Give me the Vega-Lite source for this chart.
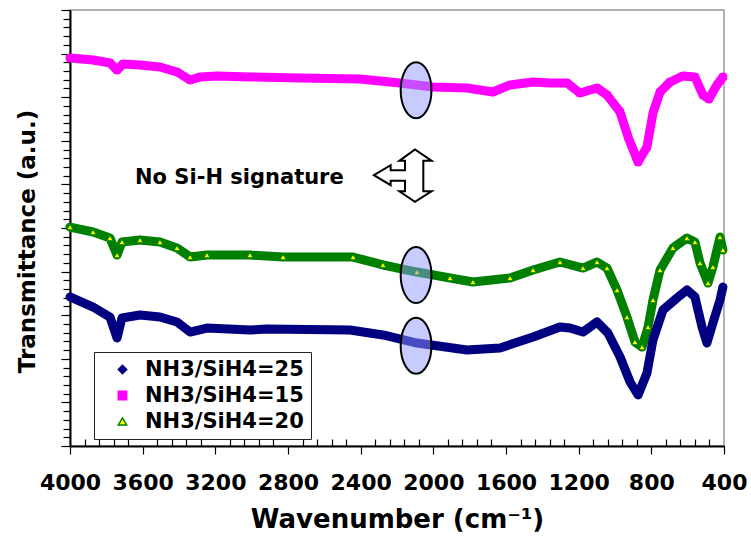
{
  "$schema": "https://vega.github.io/schema/vega-lite/v6.json",
  "width": 654,
  "height": 436,
  "autosize": {"type": "none"},
  "padding": {"left": 70, "top": 10, "right": 27, "bottom": 92},
  "background": "white",
  "config": {
    "view": {"stroke": "#999999", "strokeWidth": 1.5},
    "font": "DejaVu Sans"
  },
  "datasets": {
    "spectra": [
      {"wn": 4000, "t": 44.50, "series": "NH3/SiH4=15"},
      {"wn": 3873, "t": 44.27, "series": "NH3/SiH4=15"},
      {"wn": 3780, "t": 43.92, "series": "NH3/SiH4=15"},
      {"wn": 3741, "t": 43.12, "series": "NH3/SiH4=15"},
      {"wn": 3708, "t": 43.81, "series": "NH3/SiH4=15"},
      {"wn": 3615, "t": 43.69, "series": "NH3/SiH4=15"},
      {"wn": 3505, "t": 43.46, "series": "NH3/SiH4=15"},
      {"wn": 3411, "t": 42.89, "series": "NH3/SiH4=15"},
      {"wn": 3339, "t": 41.97, "series": "NH3/SiH4=15"},
      {"wn": 3284, "t": 42.32, "series": "NH3/SiH4=15"},
      {"wn": 3191, "t": 42.43, "series": "NH3/SiH4=15"},
      {"wn": 3009, "t": 42.32, "series": "NH3/SiH4=15"},
      {"wn": 2734, "t": 42.20, "series": "NH3/SiH4=15"},
      {"wn": 2404, "t": 42.09, "series": "NH3/SiH4=15"},
      {"wn": 2183, "t": 41.63, "series": "NH3/SiH4=15"},
      {"wn": 2002, "t": 41.17, "series": "NH3/SiH4=15"},
      {"wn": 1815, "t": 41.06, "series": "NH3/SiH4=15"},
      {"wn": 1672, "t": 40.60, "series": "NH3/SiH4=15"},
      {"wn": 1578, "t": 41.40, "series": "NH3/SiH4=15"},
      {"wn": 1451, "t": 41.74, "series": "NH3/SiH4=15"},
      {"wn": 1358, "t": 41.63, "series": "NH3/SiH4=15"},
      {"wn": 1264, "t": 41.63, "series": "NH3/SiH4=15"},
      {"wn": 1193, "t": 40.48, "series": "NH3/SiH4=15"},
      {"wn": 1099, "t": 41.06, "series": "NH3/SiH4=15"},
      {"wn": 1044, "t": 40.25, "series": "NH3/SiH4=15"},
      {"wn": 972, "t": 38.30, "series": "NH3/SiH4=15"},
      {"wn": 928, "t": 35.44, "series": "NH3/SiH4=15"},
      {"wn": 873, "t": 32.57, "series": "NH3/SiH4=15"},
      {"wn": 824, "t": 34.29, "series": "NH3/SiH4=15"},
      {"wn": 791, "t": 38.19, "series": "NH3/SiH4=15"},
      {"wn": 752, "t": 40.60, "series": "NH3/SiH4=15"},
      {"wn": 697, "t": 41.74, "series": "NH3/SiH4=15"},
      {"wn": 626, "t": 42.43, "series": "NH3/SiH4=15"},
      {"wn": 560, "t": 42.32, "series": "NH3/SiH4=15"},
      {"wn": 516, "t": 40.25, "series": "NH3/SiH4=15"},
      {"wn": 483, "t": 39.79, "series": "NH3/SiH4=15"},
      {"wn": 439, "t": 41.40, "series": "NH3/SiH4=15"},
      {"wn": 406, "t": 42.32, "series": "NH3/SiH4=15"},

      {"wn": 4000, "t": 25.11, "series": "NH3/SiH4=20"},
      {"wn": 3873, "t": 24.54, "series": "NH3/SiH4=20"},
      {"wn": 3780, "t": 23.85, "series": "NH3/SiH4=20"},
      {"wn": 3741, "t": 21.90, "series": "NH3/SiH4=20"},
      {"wn": 3714, "t": 23.39, "series": "NH3/SiH4=20"},
      {"wn": 3615, "t": 23.62, "series": "NH3/SiH4=20"},
      {"wn": 3505, "t": 23.39, "series": "NH3/SiH4=20"},
      {"wn": 3411, "t": 22.71, "series": "NH3/SiH4=20"},
      {"wn": 3339, "t": 21.67, "series": "NH3/SiH4=20"},
      {"wn": 3246, "t": 21.90, "series": "NH3/SiH4=20"},
      {"wn": 3009, "t": 21.90, "series": "NH3/SiH4=20"},
      {"wn": 2827, "t": 21.67, "series": "NH3/SiH4=20"},
      {"wn": 2442, "t": 21.67, "series": "NH3/SiH4=20"},
      {"wn": 2277, "t": 20.76, "series": "NH3/SiH4=20"},
      {"wn": 2090, "t": 19.95, "series": "NH3/SiH4=20"},
      {"wn": 1908, "t": 19.27, "series": "NH3/SiH4=20"},
      {"wn": 1782, "t": 18.81, "series": "NH3/SiH4=20"},
      {"wn": 1578, "t": 19.27, "series": "NH3/SiH4=20"},
      {"wn": 1451, "t": 20.18, "series": "NH3/SiH4=20"},
      {"wn": 1303, "t": 21.10, "series": "NH3/SiH4=20"},
      {"wn": 1176, "t": 20.41, "series": "NH3/SiH4=20"},
      {"wn": 1099, "t": 21.10, "series": "NH3/SiH4=20"},
      {"wn": 1044, "t": 20.41, "series": "NH3/SiH4=20"},
      {"wn": 989, "t": 17.89, "series": "NH3/SiH4=20"},
      {"wn": 934, "t": 14.79, "series": "NH3/SiH4=20"},
      {"wn": 890, "t": 11.93, "series": "NH3/SiH4=20"},
      {"wn": 851, "t": 11.35, "series": "NH3/SiH4=20"},
      {"wn": 818, "t": 13.65, "series": "NH3/SiH4=20"},
      {"wn": 791, "t": 16.74, "series": "NH3/SiH4=20"},
      {"wn": 752, "t": 20.18, "series": "NH3/SiH4=20"},
      {"wn": 681, "t": 22.71, "series": "NH3/SiH4=20"},
      {"wn": 604, "t": 23.85, "series": "NH3/SiH4=20"},
      {"wn": 560, "t": 23.39, "series": "NH3/SiH4=20"},
      {"wn": 532, "t": 20.99, "series": "NH3/SiH4=20"},
      {"wn": 488, "t": 18.69, "series": "NH3/SiH4=20"},
      {"wn": 461, "t": 20.53, "series": "NH3/SiH4=20"},
      {"wn": 422, "t": 23.97, "series": "NH3/SiH4=20"},
      {"wn": 406, "t": 22.48, "series": "NH3/SiH4=20"},

      {"wn": 4000, "t": 17.09, "series": "NH3/SiH4=25"},
      {"wn": 3873, "t": 15.94, "series": "NH3/SiH4=25"},
      {"wn": 3780, "t": 14.79, "series": "NH3/SiH4=25"},
      {"wn": 3741, "t": 12.39, "series": "NH3/SiH4=25"},
      {"wn": 3714, "t": 14.68, "series": "NH3/SiH4=25"},
      {"wn": 3615, "t": 15.02, "series": "NH3/SiH4=25"},
      {"wn": 3505, "t": 14.79, "series": "NH3/SiH4=25"},
      {"wn": 3411, "t": 14.22, "series": "NH3/SiH4=25"},
      {"wn": 3339, "t": 13.07, "series": "NH3/SiH4=25"},
      {"wn": 3246, "t": 13.53, "series": "NH3/SiH4=25"},
      {"wn": 3009, "t": 13.30, "series": "NH3/SiH4=25"},
      {"wn": 2916, "t": 13.42, "series": "NH3/SiH4=25"},
      {"wn": 2459, "t": 13.30, "series": "NH3/SiH4=25"},
      {"wn": 2277, "t": 12.73, "series": "NH3/SiH4=25"},
      {"wn": 2090, "t": 11.81, "series": "NH3/SiH4=25"},
      {"wn": 1815, "t": 11.01, "series": "NH3/SiH4=25"},
      {"wn": 1633, "t": 11.24, "series": "NH3/SiH4=25"},
      {"wn": 1451, "t": 12.50, "series": "NH3/SiH4=25"},
      {"wn": 1303, "t": 13.65, "series": "NH3/SiH4=25"},
      {"wn": 1248, "t": 13.53, "series": "NH3/SiH4=25"},
      {"wn": 1176, "t": 13.07, "series": "NH3/SiH4=25"},
      {"wn": 1099, "t": 14.22, "series": "NH3/SiH4=25"},
      {"wn": 1039, "t": 12.96, "series": "NH3/SiH4=25"},
      {"wn": 972, "t": 10.21, "series": "NH3/SiH4=25"},
      {"wn": 917, "t": 7.34, "series": "NH3/SiH4=25"},
      {"wn": 873, "t": 5.85, "series": "NH3/SiH4=25"},
      {"wn": 824, "t": 8.37, "series": "NH3/SiH4=25"},
      {"wn": 791, "t": 12.16, "series": "NH3/SiH4=25"},
      {"wn": 736, "t": 15.60, "series": "NH3/SiH4=25"},
      {"wn": 659, "t": 16.97, "series": "NH3/SiH4=25"},
      {"wn": 604, "t": 17.89, "series": "NH3/SiH4=25"},
      {"wn": 560, "t": 17.09, "series": "NH3/SiH4=25"},
      {"wn": 521, "t": 13.65, "series": "NH3/SiH4=25"},
      {"wn": 494, "t": 11.81, "series": "NH3/SiH4=25"},
      {"wn": 461, "t": 14.11, "series": "NH3/SiH4=25"},
      {"wn": 422, "t": 16.74, "series": "NH3/SiH4=25"},
      {"wn": 406, "t": 18.23, "series": "NH3/SiH4=25"}
    ],
    "ellipses": [
      {"wn": 2095, "t": 40.8},
      {"wn": 2095, "t": 19.6},
      {"wn": 2095, "t": 11.5}
    ],
    "arrow": [
      {"wn": 2168, "t": 31.0}
    ],
    "note": [
      {"wn": 3642, "t": 30.05, "text": "No Si-H signature"}
    ]
  },
  "layer": [
    {
      "data": {"name": "spectra"},
      "mark": {"type": "line", "strokeJoin": "round", "strokeCap": "round", "strokeWidth": 9},
      "encoding": {
        "x": {
          "field": "wn", "type": "quantitative",
          "scale": {"domain": [400, 4000], "reverse": true, "nice": false, "zero": false},
          "axis": {
            "title": "Wavenumber (cm⁻¹)",
            "values": [400,480,560,640,720,800,880,960,1040,1120,1200,1280,1360,1440,1520,1600,1680,1760,1840,1920,2000,2080,2160,2240,2320,2400,2480,2560,2640,2720,2800,2880,2960,3040,3120,3200,3280,3360,3440,3520,3600,3680,3760,3840,3920,4000],
            "tickCount": 200,
            "labelExpr": "datum.value % 400 === 0 ? format(datum.value, 'd') : ''",
            "labelFont": "DejaVu Sans", "labelFontSize": 22, "labelFontWeight": "bold", "labelColor": "black",
            "labelPadding": 18, "labelOverlap": false, "labelFlush": false,
            "tickSize": {"condition": {"test": "datum.value % 400 === 0", "value": 8}, "value": -7},
            "tickColor": "black", "tickWidth": 1.2,
            "domainColor": "black", "domainWidth": 2,
            "grid": false,
            "titleFont": "DejaVu Sans", "titleFontSize": 26, "titleFontWeight": "bold", "titleColor": "black",
            "titleBaseline": "alphabetic", "titleY": 81
          }
        },
        "y": {
          "field": "t", "type": "quantitative",
          "scale": {"domain": [0, 50], "nice": false, "zero": false},
          "axis": {
            "title": "Transmittance (a.u.)",
            "values": [0,1,2,3,4,5,6,7,8,9,10,11,12,13,14,15,16,17,18,19,20,21,22,23,24,25,26,27,28,29,30,31,32,33,34,35,36,37,38,39,40,41,42,43,44,45,46,47,48,49,50],
            "tickCount": 200,
            "labels": false,
            "tickSize": {"condition": {"test": "datum.value % 5 === 0", "value": 9}, "value": 7},
            "tickColor": "black", "tickWidth": 1.2,
            "domainColor": "black", "domainWidth": 2,
            "grid": false,
            "titleFont": "DejaVu Sans", "titleFontSize": 23, "titleFontWeight": "bold", "titleColor": "black",
            "titleBaseline": "bottom", "titleX": -31, "titleY": 231, "titleAngle": -90
          }
        },
        "stroke": {
          "field": "series", "type": "nominal",
          "scale": {"domain": ["NH3/SiH4=25", "NH3/SiH4=15", "NH3/SiH4=20"], "range": ["#000080", "#ff00ff", "#008000"]},
          "legend": {
            "title": null, "orient": "none", "legendX": 24, "legendY": 342,
            "labelFont": "DejaVu Sans", "labelFontSize": 21, "labelFontWeight": "bold", "labelColor": "black",
            "strokeColor": "#222222", "padding": 7, "rowPadding": 4, "symbolOffset": 11, "labelOffset": 12,
            "symbolSize": 70, "symbolStrokeWidth": 1.5
          }
        },
        "order": {"field": "wn", "sort": "descending"}
      }
    },
    {
      "data": {"name": "spectra"},
      "mark": {"type": "point", "filled": true, "strokeWidth": 1, "opacity": 1, "size": 40},
      "encoding": {
        "x": {"field": "wn", "type": "quantitative"},
        "y": {"field": "t", "type": "quantitative"},
        "shape": {
          "field": "series", "type": "nominal",
          "scale": {"domain": ["NH3/SiH4=25", "NH3/SiH4=15", "NH3/SiH4=20"], "range": ["diamond", "square", "triangle-up"]},
          "legend": {
            "title": null, "orient": "none", "legendX": 24, "legendY": 342,
            "labelFont": "DejaVu Sans", "labelFontSize": 21, "labelFontWeight": "bold", "labelColor": "black",
            "strokeColor": "#222222", "padding": 7, "rowPadding": 4, "symbolOffset": 11, "labelOffset": 12,
            "symbolSize": 70, "symbolStrokeWidth": 1.5
          }
        },
        "fill": {
          "field": "series", "type": "nominal",
          "scale": {"domain": ["NH3/SiH4=25", "NH3/SiH4=15", "NH3/SiH4=20"], "range": ["#000080", "#ff00ff", "#ffff00"]},
          "legend": {
            "title": null, "orient": "none", "legendX": 24, "legendY": 342,
            "labelFont": "DejaVu Sans", "labelFontSize": 21, "labelFontWeight": "bold", "labelColor": "black",
            "strokeColor": "#222222", "padding": 7, "rowPadding": 4, "symbolOffset": 11, "labelOffset": 12,
            "symbolSize": 70, "symbolStrokeWidth": 1.5
          }
        },
        "stroke": {"field": "series", "type": "nominal"}
      }
    },
    {
      "data": {"name": "ellipses"},
      "mark": {
        "type": "point",
        "shape": "M0,-1 A0.55,1 0 1,1 0,1 A0.55,1 0 1,1 0,-1 Z",
        "size": 3136,
        "filled": true,
        "fill": "#9098ff",
        "fillOpacity": 0.5,
        "stroke": "black",
        "strokeWidth": 2,
        "strokeOpacity": 1
      },
      "encoding": {
        "x": {"field": "wn", "type": "quantitative"},
        "y": {"field": "t", "type": "quantitative"}
      }
    },
    {
      "data": {"name": "arrow"},
      "mark": {
        "type": "point",
        "shape": "M-1,-0.017 L-0.422,-0.364 L-0.422,-0.191 L0.075,-0.191 L0.075,-0.514 L-0.121,-0.514 L0.422,-0.908 L1,-0.514 L0.711,-0.514 L0.711,0.538 L1,0.538 L0.422,0.908 L-0.121,0.538 L0.075,0.538 L0.075,0.179 L-0.422,0.179 L-0.422,0.329 Z",
        "size": 3330,
        "filled": true,
        "fill": "white",
        "fillOpacity": 1,
        "stroke": "black",
        "strokeWidth": 2,
        "strokeOpacity": 1
      },
      "encoding": {
        "x": {"field": "wn", "type": "quantitative"},
        "y": {"field": "t", "type": "quantitative"}
      }
    },
    {
      "data": {"name": "note"},
      "mark": {"type": "text", "align": "left", "baseline": "alphabetic", "font": "DejaVu Sans", "fontSize": 21, "fontWeight": "bold", "color": "black"},
      "encoding": {
        "x": {"field": "wn", "type": "quantitative"},
        "y": {"field": "t", "type": "quantitative"},
        "text": {"field": "text"}
      }
    }
  ]
}
